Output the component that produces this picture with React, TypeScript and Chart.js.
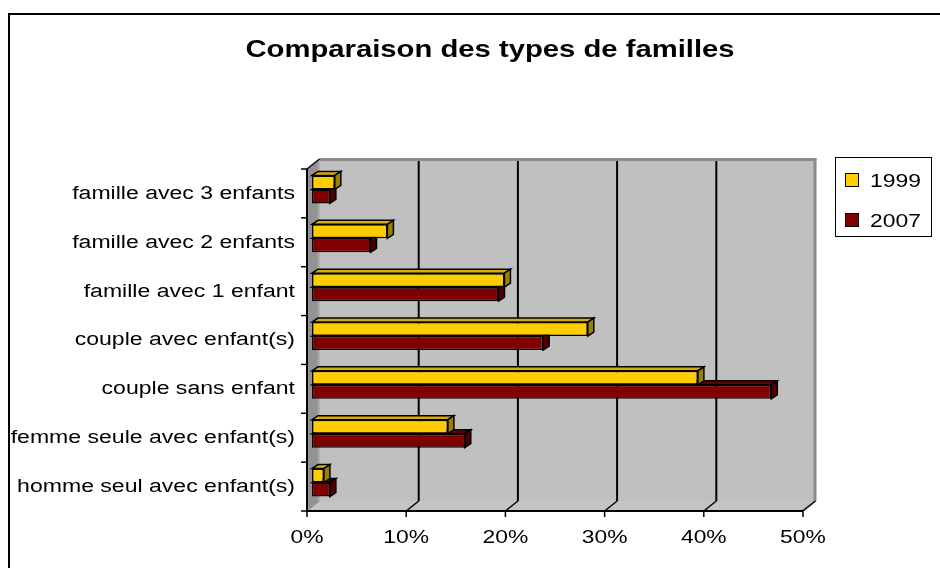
import { useEffect, useRef } from "react";
import { Chart, registerables } from "chart.js";

Chart.register(...registerables);

const TITLE = "Comparaison des types de familles";
const CATEGORIES = [
  "famille avec 3 enfants",
  "famille avec 2 enfants",
  "famille avec 1 enfant",
  "couple avec enfant(s)",
  "couple sans enfant",
  "femme seule avec enfant(s)",
  "homme seul avec enfant(s)",
];
const SERIES_NAMES = ["1999", "2007"];
const SERIES_1999 = [2.3, 7.6, 19.4, 27.8, 38.9, 13.7, 1.2];
const SERIES_2007 = [1.8, 5.9, 18.8, 23.3, 46.3, 15.4, 1.8];
const X_TICKS = [0, 10, 20, 30, 40, 50];

const FRONT_COLORS = ["#FFCC00", "#800000"];
const TOP_COLORS = ["#D9AD00", "#660000"];
const SIDE_COLORS = ["#998000", "#4D0000"];

const FONT_FAMILY = '"Liberation Sans", Arial, sans-serif';
const FRONT = { dx: -5, dy: 4 };
const BACK = { dx: 7.5, dy: -6 };
const BAR3D = { dx: 6, dy: -4 };

function drawText(
  ctx: CanvasRenderingContext2D,
  text: string,
  x: number,
  y: number,
  align: CanvasTextAlign,
  font: string,
  sx: number,
  baseline: CanvasTextBaseline = "alphabetic"
) {
  ctx.save();
  ctx.translate(x, y);
  ctx.scale(sx, 1);
  ctx.font = font;
  ctx.fillStyle = "#000";
  ctx.textAlign = align;
  ctx.textBaseline = baseline;
  ctx.fillText(text, 0, 0);
  ctx.restore();
}

function poly(ctx: CanvasRenderingContext2D, pts: number[][], fill: string | null, stroke: string | null, lw = 1) {
  ctx.beginPath();
  ctx.moveTo(pts[0][0], pts[0][1]);
  for (let i = 1; i < pts.length; i++) ctx.lineTo(pts[i][0], pts[i][1]);
  ctx.closePath();
  if (fill) {
    ctx.fillStyle = fill;
    ctx.fill();
  }
  if (stroke) {
    ctx.strokeStyle = stroke;
    ctx.lineWidth = lw;
    ctx.lineJoin = "miter";
    ctx.stroke();
  }
}

const excel3D = {
  id: "excel3D",
  beforeDatasetsDraw(chart: any) {
    const ctx: CanvasRenderingContext2D = chart.ctx;
    const xs = chart.scales.x;
    const ys = chart.scales.y;
    const x0 = xs.getPixelForValue(X_TICKS[0]);
    const x1 = xs.getPixelForValue(X_TICKS[X_TICKS.length - 1]);
    const yTop = ys.getPixelForValue(-0.5);
    const yBot = ys.getPixelForValue(CATEGORIES.length - 0.5);

    const bL = x0 + BACK.dx, bR = x1 + BACK.dx, bT = yTop + BACK.dy, bB = yBot + BACK.dy;
    const fL = x0 + FRONT.dx, fR = x1 + FRONT.dx, fT = yTop + FRONT.dy, fB = yBot + FRONT.dy;

    ctx.save();
    // back wall
    ctx.fillStyle = "#C0C0C0";
    ctx.fillRect(bL, bT, bR - bL, bB - bT);
    ctx.fillStyle = "#8C8C8C";
    ctx.fillRect(bL, bT - 1, bR - bL + 1, 3);
    ctx.fillRect(bR - 2, bT - 1, 3, bB - bT + 1);
    // left wall
    poly(ctx, [[fL, fT], [bL, bT], [bL, bB], [fL, fB]], "#929292", null);
    ctx.fillStyle = "#A6A6A6";
    ctx.fillRect(bL - 2, bT + 1, 2, bB - bT - 1);
    // floor
    poly(ctx, [[fL, fB], [bL, bB], [bR + 1, bB], [fR, fB]], "#C4C4C4", null);
    poly(ctx, [[fR, fB], [bR + 1, bB], [bR - 2, bB], [fR - 3, fB]], "#9A9A9A", null);
    ctx.strokeStyle = "#8C8C8C";
    ctx.lineWidth = 1;
    ctx.beginPath();
    ctx.moveTo(fL, fB);
    ctx.lineTo(bL, bB);
    ctx.stroke();

    // gridlines on back wall + floor diagonals
    ctx.strokeStyle = "#000";
    for (let i = 1; i < X_TICKS.length - 1; i++) {
      const p = xs.getPixelForValue(X_TICKS[i]);
      ctx.lineWidth = 2;
      ctx.beginPath();
      ctx.moveTo(p + BACK.dx, bT + 2);
      ctx.lineTo(p + BACK.dx, bB);
      ctx.stroke();
    }
    ctx.lineWidth = 1.5;
    for (let i = 1; i < X_TICKS.length; i++) {
      const p = xs.getPixelForValue(X_TICKS[i]);
      ctx.beginPath();
      ctx.moveTo(p + FRONT.dx, fB);
      ctx.lineTo(p + BACK.dx, bB);
      ctx.stroke();
    }
    // top-left diagonal
    ctx.beginPath();
    ctx.moveTo(fL, fT);
    ctx.lineTo(bL, bT);
    ctx.stroke();

    // axes
    ctx.lineWidth = 2;
    ctx.beginPath();
    ctx.moveTo(fL, fT);
    ctx.lineTo(fL, fB);
    ctx.lineTo(fR, fB);
    ctx.stroke();
    ctx.lineWidth = 1.5;
    for (let i = 0; i <= CATEGORIES.length; i++) {
      const y = ys.getPixelForValue(i - 0.5) + FRONT.dy;
      ctx.beginPath();
      ctx.moveTo(fL - 6, y);
      ctx.lineTo(fL, y);
      ctx.stroke();
    }
    for (let i = 0; i < X_TICKS.length; i++) {
      const p = xs.getPixelForValue(X_TICKS[i]) + FRONT.dx;
      ctx.beginPath();
      ctx.moveTo(p, fB);
      ctx.lineTo(p, fB + 6);
      ctx.stroke();
    }

    // labels
    const lblFont = `18px ${FONT_FAMILY}`;
    CATEGORIES.forEach((c, i) => {
      const y = ys.getPixelForValue(i) + FRONT.dy + 0.5;
      drawText(ctx, c, fL - 12, y, "right", lblFont, 1.28, "middle");
    });
    X_TICKS.forEach((t) => {
      const p = xs.getPixelForValue(t) + FRONT.dx;
      drawText(ctx, `${t}%`, p, fB + 32, "center", lblFont, 1.27);
    });

    // 3D bar faces (drawn behind the front faces that Chart.js draws)
    for (let d = chart.data.datasets.length - 1; d >= 0; d--) {
      const meta = chart.getDatasetMeta(d);
      meta.data.forEach((el: any) => {
        const { x, y, base, height } = el.getProps(["x", "y", "base", "height"], true);
        const top = y - height / 2;
        const bottom = y + height / 2;
        poly(ctx, [[base, top], [base + BAR3D.dx, top + BAR3D.dy], [x + BAR3D.dx, top + BAR3D.dy], [x, top]], TOP_COLORS[d], "#000", 1.5);
        poly(ctx, [[x, top], [x + BAR3D.dx, top + BAR3D.dy], [x + BAR3D.dx, bottom + BAR3D.dy], [x, bottom]], SIDE_COLORS[d], "#000", 1.5);
      });
    }
    ctx.restore();
  },
  afterDraw(chart: any) {
    const ctx: CanvasRenderingContext2D = chart.ctx;
    ctx.save();
    // outer frame (only left & top visible)
    ctx.fillStyle = "#000";
    ctx.fillRect(8, 13, 2, chart.height - 13);
    ctx.fillRect(8, 13, chart.width - 8, 2);
    // title
    drawText(ctx, TITLE, 490, 57, "center", `bold 23.4px ${FONT_FAMILY}`, 1.25);
    // legend
    ctx.strokeStyle = "#000";
    ctx.lineWidth = 1;
    ctx.strokeRect(835.5, 157.5, 96, 79);
    const rows = [180, 220];
    SERIES_NAMES.forEach((n, i) => {
      ctx.fillStyle = FRONT_COLORS[i];
      ctx.fillRect(845.5, rows[i] - 6.5, 13, 13);
      ctx.strokeStyle = "#000";
      ctx.strokeRect(845.5, rows[i] - 6.5, 13, 13);
      drawText(ctx, n, 870, rows[i] + 7, "left", `18px ${FONT_FAMILY}`, 1.27);
    });
    ctx.restore();
  },
};

export default function App() {
  const ref = useRef<HTMLCanvasElement>(null);
  useEffect(() => {
    document.body.style.margin = "0";
    document.body.style.overflow = "hidden";
    const chart = new Chart(ref.current!, {
      type: "bar",
      data: {
        labels: CATEGORIES,
        datasets: [
          {
            label: SERIES_NAMES[0],
            data: SERIES_1999,
            backgroundColor: FRONT_COLORS[0],
            borderColor: "#000",
            borderWidth: 1.5,
            borderSkipped: false,
            categoryPercentage: 0.573,
            barPercentage: 1,
          },
          {
            label: SERIES_NAMES[1],
            data: SERIES_2007,
            backgroundColor: FRONT_COLORS[1],
            borderColor: "#000",
            borderWidth: 1.5,
            borderSkipped: false,
            categoryPercentage: 0.573,
            barPercentage: 1,
          },
        ],
      },
      options: {
        indexAxis: "y",
        responsive: false,
        animation: false,
        devicePixelRatio: 1,
        layout: { padding: { left: 312, top: 165, right: 132, bottom: 61 } },
        plugins: {
          legend: { display: false },
          tooltip: { enabled: false },
          title: { display: false },
        },
        scales: {
          x: { type: "linear", min: 0, max: 50, display: false },
          y: { type: "category", display: false },
        },
      },
      plugins: [excel3D],
    } as any);
    return () => chart.destroy();
  }, []);
  return (
    <canvas
      ref={ref}
      width={940}
      height={568}
      style={{ display: "block", width: 940, height: 568 }}
    />
  );
}
